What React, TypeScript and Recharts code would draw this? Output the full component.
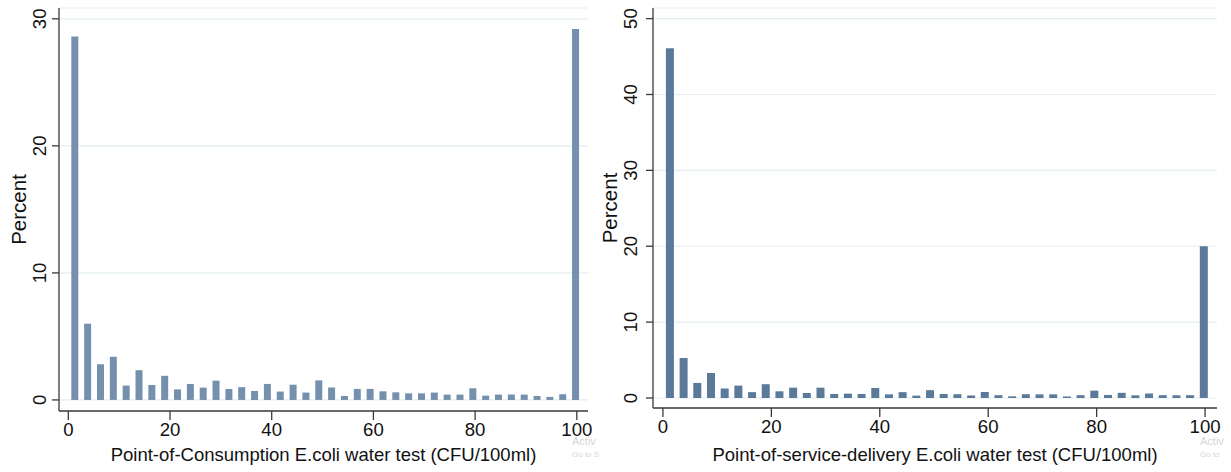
import React from "react";
import { BarChart, Bar, XAxis, YAxis, CartesianGrid, Label } from "recharts";

// Histogram bins: 40 bins of equal width over 0..101 CFU/100ml
const BIN_WIDTH = 2.525;
const BIN_COUNT = 40;
const binCenters: number[] = Array.from({ length: BIN_COUNT }, (_, i) => +((i + 0.5) * BIN_WIDTH).toFixed(3));

// Percent of samples per bin
const consumptionPct: number[] = [
  28.6, 6.0, 2.81, 3.4, 1.13, 2.34, 1.18, 1.9, 0.83, 1.26,
  0.97, 1.52, 0.86, 1.01, 0.71, 1.26, 0.66, 1.2, 0.58, 1.54,
  0.98, 0.31, 0.87, 0.87, 0.68, 0.6, 0.52, 0.52, 0.58, 0.42,
  0.42, 0.92, 0.34, 0.42, 0.42, 0.42, 0.31, 0.24, 0.45, 29.2,
];
const deliveryPct: number[] = [
  46.1, 5.27, 1.98, 3.29, 1.25, 1.63, 0.77, 1.82, 0.88, 1.36,
  0.66, 1.36, 0.53, 0.57, 0.53, 1.32, 0.48, 0.77, 0.31, 1.03,
  0.53, 0.5, 0.33, 0.79, 0.37, 0.22, 0.5, 0.48, 0.48, 0.2,
  0.37, 0.97, 0.4, 0.68, 0.35, 0.59, 0.37, 0.35, 0.37, 20.0,
];

const xTicks: number[] = [0, 20, 40, 60, 80, 100];
const leftYTicks: number[] = [0, 10, 20, 30];
const rightYTicks: number[] = [0, 10, 20, 30, 40, 50];

const leftTitle = "Point-of-Consumption E.coli water test (CFU/100ml)";
const rightTitle = "Point-of-service-delivery E.coli water test (CFU/100ml)";
const yTitle = "Percent";

const leftData = binCenters.map((x, i) => ({ x, v: consumptionPct[i] }));
const rightData = binCenters.map((x, i) => ({ x, v: deliveryPct[i] }));

const FONT = "'Liberation Sans', Arial, Helvetica, sans-serif";
const AXIS = "#3a3a3a";
const GRID = "#e4eef0";
const TICK_FS = 18.6;
const XTITLE_FS = 18.5;
const YTITLE_FS = 20.5;

const RotTick = (props: any) => {
  const { x, y, payload, shift } = props;
  const bx = x - shift;
  return (
    <text
      x={bx}
      y={y}
      transform={`rotate(-90 ${bx} ${y})`}
      textAnchor="middle"
      fontSize={TICK_FS}
      fontFamily={FONT}
      fill="#111"
    >
      {payload.value}
    </text>
  );
};

type HistProps = {
  data: { x: number; v: number }[];
  width: number;
  height: number;
  yAxisWidth: number;
  xAxisHeight: number;
  rightMargin: number;
  yDomain: [number, number];
  yTicks: number[];
  color: string;
  barSize: number;
  title: string;
  tickShift: number;
  yTitleOffset: number;
};

const Hist = (p: HistProps) => (
  <BarChart
    width={p.width}
    height={p.height}
    data={p.data}
    margin={{ top: 8, right: p.rightMargin, bottom: 0, left: 0 }}
    barGap={0}
  >
    <CartesianGrid horizontal={true} vertical={false} stroke={GRID} strokeWidth={1.2} />
    <XAxis
      dataKey="x"
      type="number"
      domain={[-1.83, 102.2]}
      allowDataOverflow
      ticks={xTicks}
      interval={0}
      height={p.xAxisHeight}
      axisLine={{ stroke: AXIS, strokeWidth: 1.3 }}
      tickLine={{ stroke: AXIS, strokeWidth: 1.3 }}
      tickSize={9}
      tickMargin={3}
      tick={{ fontSize: TICK_FS, fontFamily: FONT, fill: "#111" }}
    >
      <Label
        value={p.title}
        position="insideBottom"
        offset={11}
        style={{ fontSize: XTITLE_FS, fontFamily: FONT, fill: "#111" }}
      />
    </XAxis>
    <YAxis
      type="number"
      domain={p.yDomain}
      allowDataOverflow
      ticks={p.yTicks}
      interval={0}
      width={p.yAxisWidth}
      axisLine={{ stroke: AXIS, strokeWidth: 1.3 }}
      tickLine={{ stroke: AXIS, strokeWidth: 1.3 }}
      tickSize={7}
      tickMargin={0}
      tick={(tp: any) => <RotTick {...tp} shift={p.tickShift} />}
    >
      <Label
        value={yTitle}
        angle={-90}
        position="insideLeft"
        offset={p.yTitleOffset}
        style={{ fontSize: YTITLE_FS, fontFamily: FONT, fill: "#111", textAnchor: "middle" }}
      />
    </YAxis>
    <Bar dataKey="v" fill={p.color} barSize={p.barSize} isAnimationActive={false} />
  </BarChart>
);

const Watermark = ({ left, line1, line2 }: { left: number; line1: string; line2: string }) => (
  <div
    style={{
      position: "absolute",
      left,
      top: 435,
      fontFamily: FONT,
      color: "#d6d6d6",
      lineHeight: "13px",
      pointerEvents: "none",
    }}
  >
    <div style={{ fontSize: 11, whiteSpace: "nowrap" }}>{line1}</div>
    <div style={{ fontSize: 8, whiteSpace: "nowrap" }}>{line2}</div>
  </div>
);

export default function App() {
  return (
    <div
      style={{
        position: "fixed",
        left: 0,
        top: 0,
        width: 1231,
        height: 472,
        background: "#fff",
        overflow: "hidden",
      }}
    >
      <div style={{ position: "absolute", left: 0, top: 0 }}>
        <Hist
          data={leftData}
          width={600}
          height={472}
          yAxisWidth={59}
          xAxisHeight={61}
          rightMargin={12}
          yDomain={[-0.87, 30.85]}
          yTicks={leftYTicks}
          color="#7590ad"
          barSize={7}
          title={leftTitle}
          tickShift={6}
          yTitleOffset={19}
        />
      </div>
      <div style={{ position: "absolute", left: 590, top: 0 }}>
        <Hist
          data={rightData}
          width={641}
          height={472}
          yAxisWidth={63}
          xAxisHeight={64}
          rightMargin={14}
          yDomain={[-1.32, 51.4]}
          yTicks={rightYTicks}
          color="#5b7a99"
          barSize={8}
          title={rightTitle}
          tickShift={9}
          yTitleOffset={20}
        />
      </div>
      <Watermark left={572} line1="Activ" line2="Go to S" />
      <Watermark left={1200} line1="Activ" line2="Go to" />
    </div>
  );
}
